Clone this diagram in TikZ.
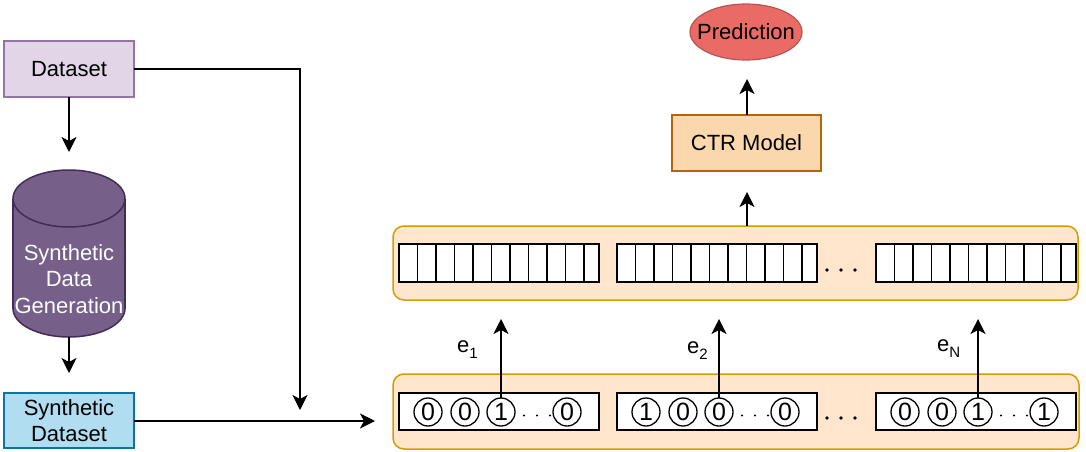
\documentclass[tikz,border=0pt]{standalone}
\usepackage{fontspec}
\setmainfont{Liberation Sans}
\usetikzlibrary{arrows.meta,shapes.geometric}
\definecolor{dsfill}{HTML}{E1D5E7}
\definecolor{dsline}{HTML}{9673A6}
\definecolor{cylfill}{HTML}{76608A}
\definecolor{cylline}{HTML}{432D57}
\definecolor{sdfill}{HTML}{B1DDF0}
\definecolor{sdline}{HTML}{10739E}
\definecolor{cfill}{HTML}{FFE6CC}
\definecolor{cline}{HTML}{D79B00}
\definecolor{ctrfill}{HTML}{FAD7AC}
\definecolor{ctrline}{HTML}{B46504}
\definecolor{prfill}{HTML}{EA6B66}
\definecolor{prline}{HTML}{B85450}
\tikzset{
  arr/.style={line width=1.6pt, -{Stealth[length=15pt,width=15pt,inset=4pt]}},
  boxnode/.style={draw, line width=1.5pt, inner sep=0pt, outer sep=0pt, align=center},
  container/.style={draw=cline, fill=cfill, line width=1.5pt, rounded corners=11pt, inner sep=0pt, outer sep=0pt},
  vecbox/.style={draw=black, fill=white, line width=1.8pt, minimum width=200pt, inner sep=0pt, outer sep=0pt},
  bit/.style={circle, draw=black, line width=1.3pt, minimum size=28pt, inner sep=0pt, outer sep=0pt, font=\fontsize{25}{25}\selectfont},
  elabel/.style={anchor=base west, inner sep=0pt, font=\fontsize{22}{22}\selectfont},
}
\newcommand{\subsc}[1]{\raisebox{-0.3em}{\fontsize{15}{15}\selectfont #1}}
\begin{document}
\begin{tikzpicture}[x=1pt,y=-1pt, font=\fontsize{22}{26.5}\selectfont]
\useasboundingbox (0,0) rectangle (1086,452);

% left column
\node[boxnode, draw=dsline, fill=dsfill, minimum width=130pt, minimum height=56pt] (ds) at (69,69) {Dataset};
% cylinder
\draw[draw=cylline, fill=cylfill, line width=1.5pt] (69,308.5) ellipse [x radius=56, y radius=28.5];
\fill[cylfill] (13,198.5) rectangle (125,308.5);
\draw[cylline, line width=1.5pt] (13,198.5) -- (13,308.5) (125,198.5) -- (125,308.5);
\draw[draw=cylline, fill=cylfill, line width=1.5pt] (69,198.5) ellipse [x radius=56, y radius=28.5];
\node[white, align=center, inner sep=0pt] (gen) at (69,279) {Synthetic\\Data\\Generation};
\coordinate (gentop) at (69,152);
\coordinate (genbot) at (69,337);
\coordinate (sdtip) at (69,373);
\node[boxnode, draw=sdline, fill=sdfill, minimum width=130pt, minimum height=55pt] (sd) at (69,420.5) {Synthetic\\Dataset};

\draw[arr] (ds.south) -- (gentop);
\draw[arr] (genbot) -- (sdtip);
\coordinate (dstip) at (300,410);
\draw[arr] (ds.east) -| (dstip);
\coordinate (sdend) at (375,421);
\draw[arr] (sd.east |- sdend) -- (sdend);

% containers
\node[container, minimum width=685pt, minimum height=74pt] (topc) at (735.5,263) {};
\node[container, minimum width=686pt, minimum height=75pt] (botc) at (736,411.5) {};

% top vectors
\foreach \bx/\nm in {399/v1,617/v2,876/v3}{
  \node[vecbox, minimum height=38pt, anchor=west] (\nm) at (\bx,263) {};
  \foreach \k in {1,...,10}{
    \draw[line width=1.3pt] (\bx+18.5*\k,244) -- (\bx+18.5*\k,282);
  }
}
\foreach \dx in {827,841,855}{
  \fill (\dx,270) circle (1.8);
  \fill (\dx,418) circle (1.8);
}

% bottom one-hot vectors
\foreach \bx/\nm/\a/\b/\c/\d in {399/o1/0/0/1/0,617/o2/1/0/0/0,876/o3/0/0/1/1}{
  \node[vecbox, minimum height=37pt, anchor=west] (\nm) at (\bx,411.5) {};
  \node[bit] (\nm a) at (\bx+29,412) {\a};
  \node[bit] (\nm b) at (\bx+66,412) {\b};
  \node[bit] (\nm c) at (\bx+102,412) {\c};
  \node[bit] (\nm d) at (\bx+168,412) {\d};
  \foreach \dd in {23,36,49}{
    \fill (\bx+102+\dd,415.5) circle (1.2);
  }
}

% embedding arrows
\coordinate (e1tip) at (501,319);
\coordinate (e2tip) at (719,319);
\coordinate (e3tip) at (978,319);
\draw[arr] (o1c.north) -- (e1tip);
\draw[arr] (o2c.north) -- (e2tip);
\draw[arr] (o3c.north) -- (e3tip);
\node[elabel] (l1) at (457,352) {e\subsc{1}};
\node[elabel] (l2) at (687,353) {e\subsc{2}};
\node[elabel] (l3) at (937,351) {e\subsc{N}};

% CTR and prediction
\node[boxnode, draw=ctrline, fill=ctrfill, minimum width=149pt, minimum height=56pt] (ctr) at (746.5,143) {CTR Model};
\node[ellipse, draw=prline, fill=prfill, line width=1.2pt, minimum width=112pt, minimum height=56pt, inner sep=0pt] (pred) at (746,32) {\makebox[0pt]{Prediction}};
\coordinate (ctrtip) at (747,192);
\coordinate (predtip) at (747,79);
\draw[arr] (ctrtip |- topc.north) -- (ctrtip);
\draw[arr] (ctrtip |- ctr.north) -- (predtip);
\end{tikzpicture}
\end{document}
